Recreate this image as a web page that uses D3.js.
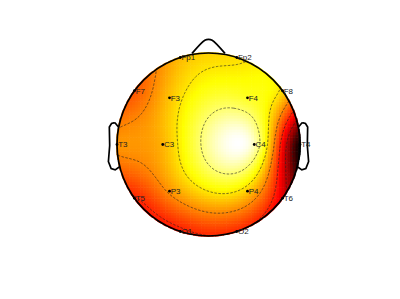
<!DOCTYPE html>
<html>
<head>
<meta charset="utf-8">
<script src="https://cdn.jsdelivr.net/npm/d3@7"></script>
<style>
body { margin: 0; background: #fff; }
svg { display: block; }
text { font-family: "Liberation Sans", Arial, sans-serif; }
</style>
</head>
<body>
<div id="chart"></div>
<script>
// channel layout (10-20, polar: degrees from nose, normalised arc radius)
var labels = ['Fp1', 'Fp2', 'F7', 'F3', 'F4', 'F8', 'T3', 'C3', 'C4', 'T4', 'T5', 'P3', 'P4', 'T6', 'O1', 'O2'];
var theta = [-18, 18, -54, -39.89, 39.89, 54, -90, -90, 90, 90, -126, -140.11, 140.11, 126, -162, 162];
var radius = [0.5, 0.5, 0.5, 0.3322, 0.3322, 0.5, 0.5, 0.25, 0.25, 0.5, 0.5, 0.3322, 0.3322, 0.5, 0.5, 0.5];
// channel values
var values = [0.68, 0.725, 0.55, 0.69, 0.80, 0.72, 0.63, 0.67, 0.93, 0.12, 0.48, 0.625, 0.70, 0.40, 0.47, 0.49];

var width = 400, height = 299;
var cx = 208.5, cy = 144.5, rpx = 91.5;
var GRID = 67, CONTOURNUM = 6;

var svg = d3.select('#chart').append('svg')
    .attr('width', width)
    .attr('height', height);

var x = d3.scaleLinear().domain([-0.5, 0.5]).range([cx - rpx, cx + rpx]);
var y = d3.scaleLinear().domain([-0.5, 0.5]).range([cy + rpx, cy - rpx]);

var chans = labels.map(function (l, i) {
    var t = theta[i] * Math.PI / 180;
    return { label: l, x: radius[i] * Math.sin(t), y: radius[i] * Math.cos(t), v: values[i] };
});

// biharmonic spline (griddata v4)
function green(d) { return d === 0 ? 0 : d * d * (Math.log(d) - 1); }
var n = chans.length;
var A = chans.map(function (a) {
    return chans.map(function (b) { return green(Math.hypot(a.x - b.x, a.y - b.y)); });
});
function solve(M, b) {
    var m = M.map(function (r, i) { return r.concat([b[i]]); });
    for (var c = 0; c < n; c++) {
        var p = c;
        for (var r = c + 1; r < n; r++) if (Math.abs(m[r][c]) > Math.abs(m[p][c])) p = r;
        var tmp = m[c]; m[c] = m[p]; m[p] = tmp;
        for (var r2 = 0; r2 < n; r2++) {
            if (r2 === c) continue;
            var f = m[r2][c] / m[c][c];
            for (var k = c; k <= n; k++) m[r2][k] -= f * m[c][k];
        }
    }
    return m.map(function (r, i) { return r[n] / r[i]; });
}
var w = solve(A, values);
function interp(px, py) {
    var s = 0;
    for (var i = 0; i < n; i++) s += w[i] * green(Math.hypot(px - chans[i].x, py - chans[i].y));
    return s;
}

// colour grid
var gs = d3.scaleLinear().domain([0, GRID - 1]).range([-0.5, 0.5]);
var cells = [];
d3.range(GRID).forEach(function (j) {
    d3.range(GRID).forEach(function (i) {
        var ux = gs(i), uy = gs(j);
        if (Math.hypot(ux, uy) <= 0.5 + 0.5 / (GRID - 1)) cells.push({ x: ux, y: uy, v: interp(ux, uy) });
    });
});
var vmin = d3.min(cells, function (d) { return d.v; });
var vmax = d3.max(cells, function (d) { return d.v; });

// matlab "hot"
function hot(t) {
    t = Math.max(0, Math.min(1, t));
    var r = Math.min(1, t / 0.375), g = Math.max(0, Math.min(1, (t - 0.375) / 0.375)), b = Math.max(0, (t - 0.75) / 0.25);
    return d3.rgb(r * 255, g * 255, b * 255);
}
var color = d3.scaleSequential(hot).domain([vmin, vmax]);

var defs = svg.append('defs');
defs.append('clipPath').attr('id', 'headclip')
    .append('circle').attr('cx', x(0)).attr('cy', y(0)).attr('r', x(0.5) - x(0) + 1);

var step = x(gs(1)) - x(gs(0));
var map = svg.append('g').attr('clip-path', 'url(#headclip)');
map.selectAll('rect').data(cells).enter().append('rect')
    .attr('x', function (d) { return x(d.x) - step / 2 - 0.3; })
    .attr('y', function (d) { return y(d.y) - step / 2 - 0.3; })
    .attr('width', step + 0.6)
    .attr('height', step + 0.6)
    .attr('fill', function (d) { return color(d.v); });

// contours on a wider grid so edges fall outside the head
var CN = 121;
var cg = d3.scaleLinear().domain([0, CN]).range([-0.6, 0.6]);
var cvals = new Array(CN * CN);
for (var j = 0; j < CN; j++) for (var i = 0; i < CN; i++) cvals[i + j * CN] = interp(cg(i + 0.5), cg(j + 0.5));
var levels = d3.range(1, CONTOURNUM + 1).map(function (k) { return vmin + k * (vmax - vmin) / (CONTOURNUM + 1); });
var contours = d3.contours().size([CN, CN]).thresholds(levels)(cvals);
var proj = d3.geoTransform({ point: function (px, py) { this.stream.point(x(cg(px)), y(cg(py))); } });
map.selectAll('path.contour').data(contours).enter().append('path')
    .attr('class', 'contour')
    .attr('d', d3.geoPath(proj))
    .attr('fill', 'none')
    .attr('stroke', '#222')
    .attr('stroke-width', 0.6)
    .attr('stroke-dasharray', '2.5,1.5');

// head, nose, ears
var line = d3.line().x(function (d) { return x(d[0]); }).y(function (d) { return y(d[1]); });
var q = 0.04;
var earX = [0.492, 0.510, 0.518, 0.5299, 0.5419, 0.54, 0.547, 0.532, 0.510, 0.484];
var earY = [q + 0.0555, q + 0.0775, q + 0.0783, q + 0.0746, q + 0.0555, -0.0055, -0.0932, -0.1313, -0.1384, -0.1199];
var nose = [[0.09, 0.4977], [0.02, 0.57], [0, 0.575], [-0.02, 0.57], [-0.09, 0.4977]];
var outline = svg.append('g').attr('fill', 'none').attr('stroke', '#000').attr('stroke-width', 1.7);
outline.append('circle').attr('cx', x(0)).attr('cy', y(0)).attr('r', x(0.5) - x(0));
outline.append('path').attr('d', line.curve(d3.curveCatmullRom)(nose));
outline.append('path').attr('d', line.curve(d3.curveLinear)(earX.map(function (v, i) { return [v, earY[i]]; })));
outline.append('path').attr('d', line(earX.map(function (v, i) { return [-v, earY[i]]; })));

// electrodes
var el = svg.append('g').selectAll('g').data(chans).enter().append('g')
    .attr('transform', function (d) { return 'translate(' + x(d.x) + ',' + y(d.y) + ')'; });
el.append('circle').attr('r', 1.4).attr('fill', '#000');
el.append('text')
    .attr('x', 1.2)
    .attr('dy', '0.35em')
    .attr('font-size', 8)
    .attr('fill', '#222')
    .text(function (d) { return d.label; });
</script>
</body>
</html>
